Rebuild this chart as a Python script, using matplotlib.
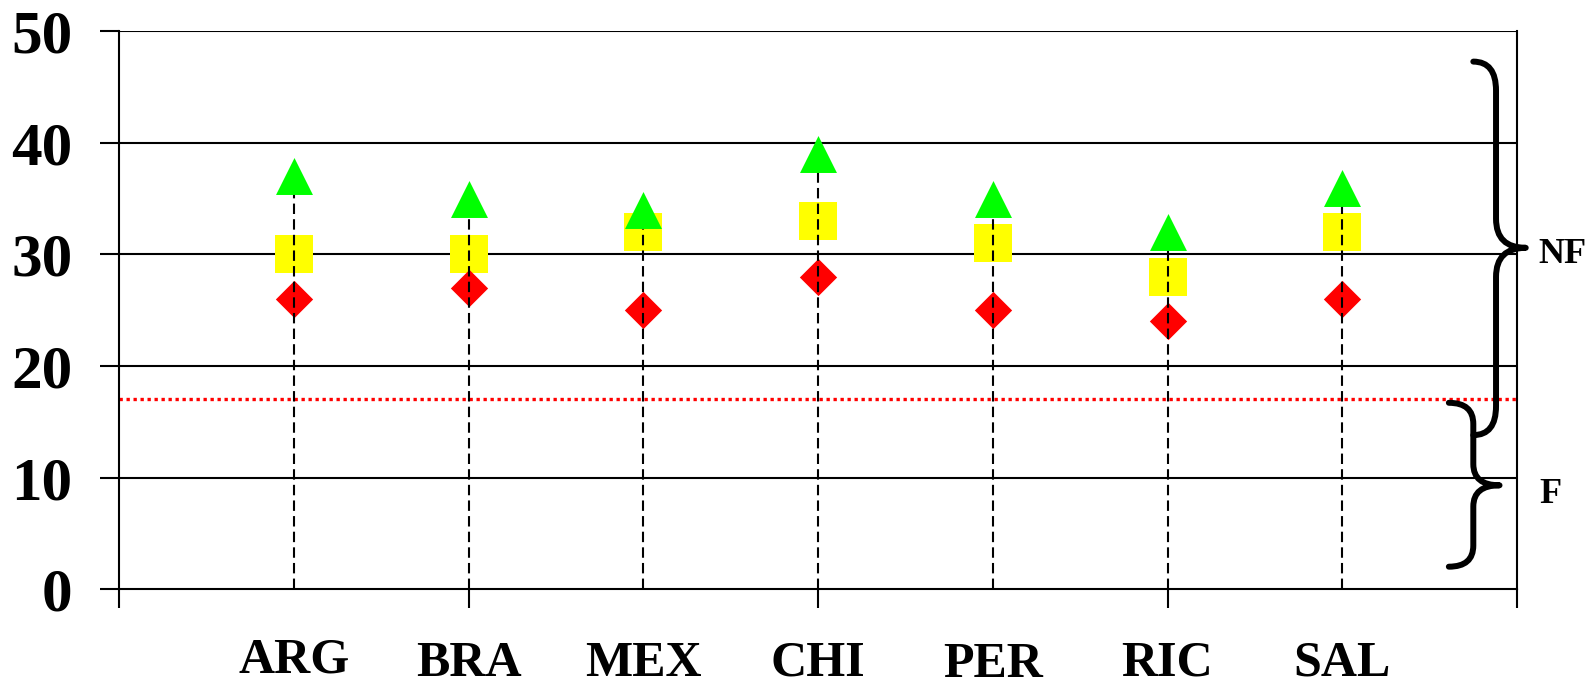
import matplotlib
matplotlib.use("Agg")
import matplotlib.pyplot as plt
from matplotlib.path import Path
from matplotlib.patches import PathPatch

# ---- data ----
countries = ["ARG", "BRA", "MEX", "CHI", "PER", "RIC", "SAL"]
triangle_vals = [37, 35, 34, 39, 35, 32, 36]
square_vals = [30, 30, 32, 33, 31, 28, 32]
diamond_vals = [26, 27, 25, 28, 25, 24, 26]
threshold = 17
y_ticks = [0, 10, 20, 30, 40, 50]
x_ticks = [0, 2, 4, 6, 8]
brace_nf = (47.3, 30.6, 13.8)   # top, tip, bottom (y values)
brace_f = (16.7, 9.3, 2.0)

plt.rcParams['font.family'] = ['Liberation Serif', 'DejaVu Serif']
plt.rcParams['font.weight'] = 'bold'

W, H = 1596, 688
fig = plt.figure(figsize=(W / 100, H / 100), dpi=100)
ax = fig.add_axes([119 / W, (H - 589) / H, (1517 - 119) / W, (589 - 31.5) / H])
ax.set_xlim(0, 8)
ax.set_ylim(0, 50)

# gridlines
for yv in y_ticks[1:]:
    ax.axhline(yv, color='black', lw=1.5, zorder=1)

# threshold dotted line
ax.axhline(threshold, color='red', lw=2.4, linestyle=(0, (1, 1.1)), zorder=1.5)

xs = list(range(1, len(countries) + 1))
ax.scatter(xs, square_vals, marker='s', s=27**2, color='#FFFF00', zorder=3, linewidths=0)
ax.scatter(xs, diamond_vals, marker='D', s=19**2, color='#FF0000', zorder=3, linewidths=0)
for x, t in zip(xs, triangle_vals):
    ax.plot([x, x], [0, t], color='black', lw=1.5, dashes=(5, 2.5), zorder=4)
ax.scatter(xs, triangle_vals, marker='^', s=26.6**2, color='#00FF00', zorder=5, linewidths=0)

# axes styling
for side in ['left', 'right', 'bottom']:
    ax.spines[side].set_linewidth(1.5)
    ax.spines[side].set_color('black')
ax.spines['top'].set_visible(False)
ax.set_yticks(y_ticks)
ax.set_yticklabels([str(v) for v in y_ticks], fontsize=44, fontweight='bold')
ax.tick_params(axis='y', direction='out', length=13.5, width=1.5, pad=20)
ax.set_xticks(x_ticks)
ax.set_xticklabels([])
ax.tick_params(axis='x', direction='out', length=14, width=1.5)

# category labels
label_offsets = [-7.53, -7.8, -7.8, -7.8, -7.89, -7.8, -7.8]
for x, name, off in zip(xs, countries, label_offsets):
    ax.text(x, off, name, ha='center', va='baseline', fontsize=36, fontweight='bold',
            clip_on=False)

# braces
def brace(ax, x_end, x_stem, x_tip, top, mid, bot, r):
    verts = [
        (x_end, top), (x_stem, top), (x_stem, top - r),
        (x_stem, mid + r),
        (x_stem, mid), (x_tip, mid),
        (x_stem, mid), (x_stem, mid - r),
        (x_stem, bot + r),
        (x_stem, bot), (x_end, bot),
    ]
    codes = [Path.MOVETO, Path.CURVE3, Path.CURVE3, Path.LINETO,
             Path.CURVE3, Path.CURVE3, Path.CURVE3, Path.CURVE3,
             Path.LINETO, Path.CURVE3, Path.CURVE3]
    p = PathPatch(Path(verts, codes), fill=False, lw=4.3, edgecolor='black',
                  clip_on=False, zorder=6, capstyle='round', joinstyle='round')
    ax.add_patch(p)

brace(ax, 7.75, 7.88, 8.05, brace_nf[0], brace_nf[1], brace_nf[2], 2.6)
brace(ax, 7.61, 7.75, 7.90, brace_f[0], brace_f[1], brace_f[2], 1.9)

ax.text(8.12, 30, "NF", ha='left', va='center', fontsize=26, fontweight='bold', clip_on=False)
ax.text(8.13, 8.5, "F", ha='left', va='center', fontsize=26, fontweight='bold', clip_on=False)

fig.savefig("out.png", dpi=100)
